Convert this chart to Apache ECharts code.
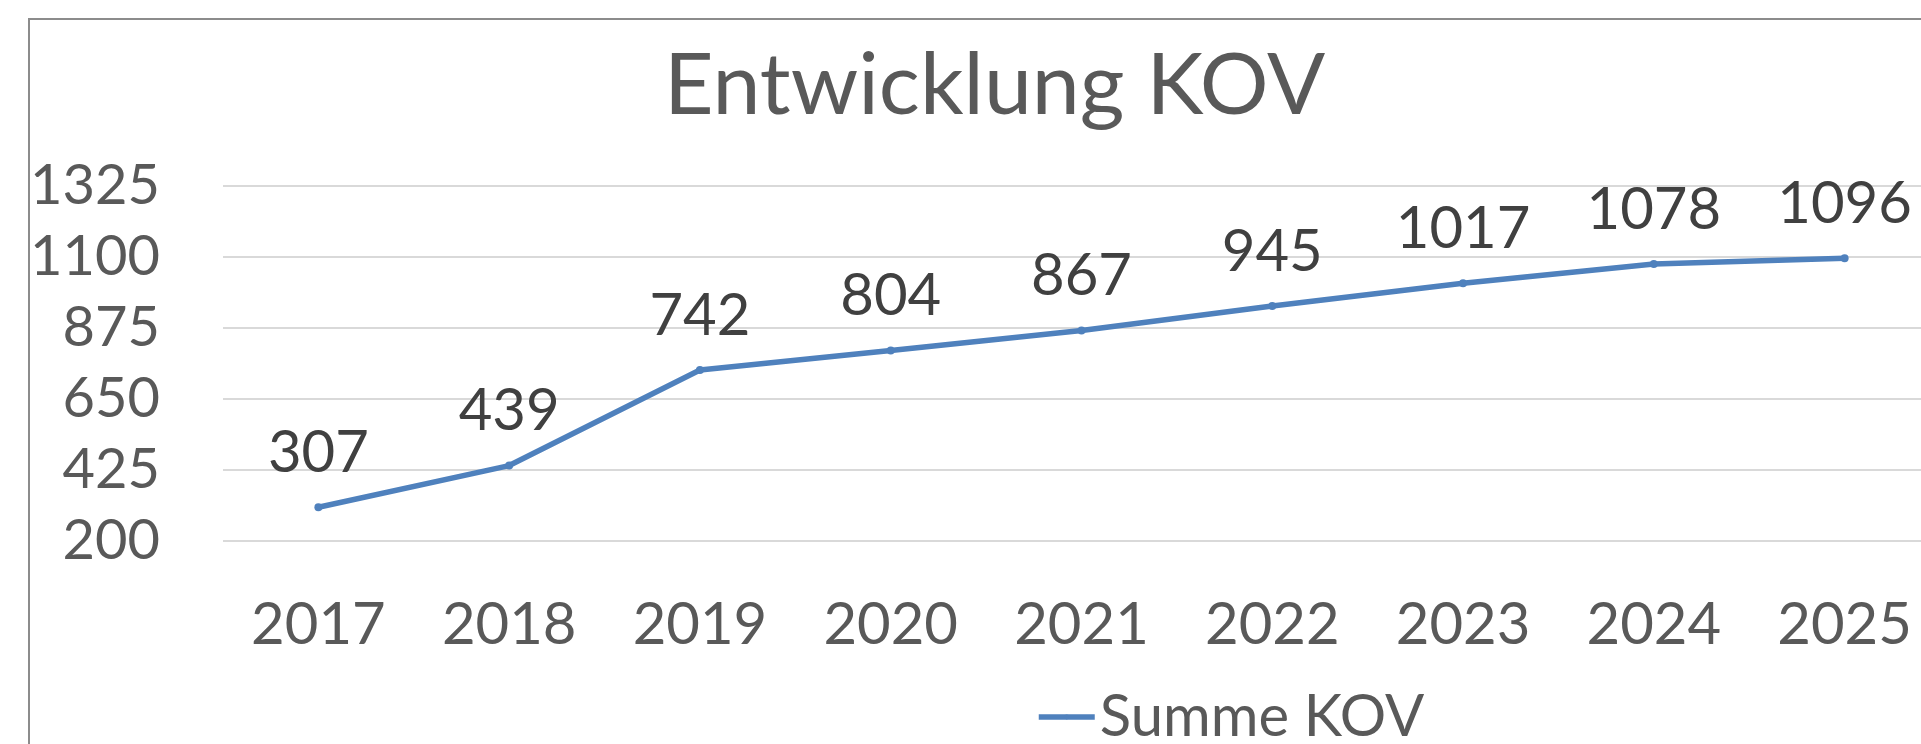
<!DOCTYPE html>
<html>
<head>
<meta charset="utf-8">
<title>Entwicklung KOV</title>
<script src="https://cdn.jsdelivr.net/npm/echarts@6/dist/echarts.min.js"></script>
<style>
  html, body { margin: 0; padding: 0; background: #fff; }
  #chart { width: 1921px; height: 744px; }
</style>
</head>
<body>
<div id="chart"></div>
<script>
// Daten
const years = ['2017', '2018', '2019', '2020', '2021', '2022', '2023', '2024', '2025']
const summeKov = [307, 439, 742, 804, 867, 945, 1017, 1078, 1096]
const yMin = 200, yMax = 1325, yStep = 225

const font = 'Lato'
const grey = '#595959'

const chart = echarts.init(document.getElementById('chart'))

chart.setOption({
  backgroundColor: '#fff',
  animation: false,
  // Rahmen
  graphic: [{
    type: 'rect',
    silent: true,
    shape: { x: 29, y: 19, width: 1960, height: 800 },
    style: { fill: 'none', stroke: '#8c8c8c', lineWidth: 2 }
  }],
  title: {
    text: 'Entwicklung KOV',
    left: 664,
    top: 43,
    padding: 0,
    textStyle: { fontFamily: font, fontSize: 86, fontWeight: 'normal', color: grey }
  },
  legend: {
    left: 1036,
    top: 688,
    padding: 0,
    itemWidth: 56,
    itemHeight: 6,
    lineStyle: { width: 5.5 },
    textStyle: { fontFamily: font, fontSize: 58, color: grey }
  },
  grid: { left: 223, width: 1717, top: 186, height: 355, outerBoundsMode: 'none' },
  xAxis: {
    type: 'category',
    data: years,
    axisLine: { show: false },
    axisTick: { show: false },
    axisLabel: { fontFamily: font, fontSize: 58, color: grey, margin: 55 }
  },
  yAxis: {
    type: 'value',
    min: yMin,
    max: yMax,
    interval: yStep,
    axisLine: { show: false },
    axisTick: { show: false },
    splitLine: { lineStyle: { color: '#d9d9d9', width: 2 } },
    axisLabel: {
      fontFamily: font, fontSize: 56, color: grey, margin: 63,
      formatter: v => String(v)
    }
  },
  series: [{
    name: 'Summe KOV',
    type: 'line',
    data: summeKov,
    color: '#4f81bd',
    symbol: 'circle',
    symbolSize: 8,
    lineStyle: { width: 5.5, color: '#4f81bd' },
    label: {
      show: true,
      position: 'top',
      distance: 21,
      fontFamily: font,
      fontSize: 58,
      color: '#404040'
    }
  }]
})
</script>
</body>
</html>
